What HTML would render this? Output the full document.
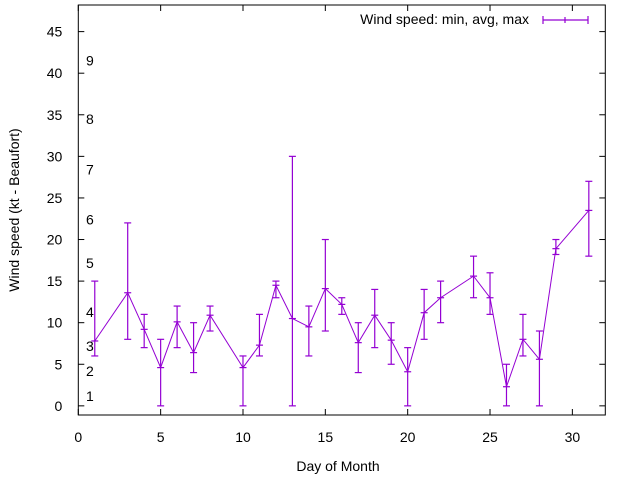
<!DOCTYPE html>
<html><head><meta charset="utf-8"><style>
body{margin:0;background:#fff}
svg{display:block;font-family:"Liberation Sans",sans-serif}
</style></head><body>
<svg width="640" height="480" id="c">
<rect x="0" y="0" width="640" height="480" fill="#fff"/>
<g id="grid"></g>
<text x="338" y="471" font-size="14" text-anchor="middle" fill="#000">Day of Month</text>
<text transform="translate(19,210) rotate(-90)" font-size="14" text-anchor="middle" fill="#000">Wind speed (kt - Beaufort)</text>
<text x="529" y="24" font-size="14" text-anchor="end" fill="#000">Wind speed: min, avg, max</text>
<g stroke="#9400d3" stroke-width="1.2">
<line x1="543" y1="20" x2="588" y2="20"/><line x1="543" y1="16" x2="543" y2="24"/><line x1="588" y1="16" x2="588" y2="24"/><line x1="565" y1="17" x2="565" y2="23"/>
</g>
</svg>
<script>
const days=[1,3,4,5,6,7,8,10,11,12,13,14,15,16,17,18,19,20,21,22,24,25,26,27,28,29,31];
const avgs=[7.8,13.6,9.2,4.6,10.1,6.4,10.9,4.6,7.3,14.5,10.5,9.5,14.1,12.2,7.6,10.9,7.9,4.1,11.2,13,15.6,13,2.3,8,5.6,18.9,23.5];
const mins=[6,8,7,0,7,4,9,0,6,13,0,6,9,11,4,7,5,0,8,10,13,11,0,6,0,18.2,18];
const maxs=[15,22,11,8,12,10,12,6,11,15,30,12,20,13,10,14,10,7,14,15,18,16,5,11,9,20,27];
const xTicks=[0,5,10,15,20,25,30];
const yTicks=[0,5,10,15,20,25,30,35,40,45];
const beaufortLabels=["1","2","3","4","5","6","7","8","9"];
const beaufortKt=[1.2,4.2,7.2,11.3,17.2,22.4,28.4,34.5,41.5];
const L=78.3,R=605.3,T=5,B=415,xMin=0,xMax=32,yMin=-1.1,yMax=48.2;
const X=v=>L+(v-xMin)/(xMax-xMin)*(R-L);
const Y=v=>B-(v-yMin)/(yMax-yMin)*(B-T);
const NS="http://www.w3.org/2000/svg";
const svg=document.getElementById('c');
function mk(t,a,p){const e=document.createElementNS(NS,t);for(const k in a)e.setAttribute(k,a[k]);(p||svg).appendChild(e);return e;}
const g=document.getElementById('grid');
const frame=mk('rect',{x:L,y:T,width:R-L,height:B-T,fill:'none',stroke:'#000','stroke-width':1},g);


xTicks.forEach(v=>{
  const x=X(v);
  mk('line',{x1:x,y1:B,x2:x,y2:B-6,stroke:'#000'},g);
  mk('line',{x1:x,y1:T,x2:x,y2:T+6,stroke:'#000'},g);
  const t=mk('text',{x:x,y:B+27,'font-size':14,'text-anchor':'middle',fill:'#000'});
  t.textContent=v;
  
  
});
yTicks.forEach(v=>{
  const y=Y(v);
  mk('line',{x1:L,y1:y,x2:L+6,y2:y,stroke:'#000'},g);
  mk('line',{x1:R,y1:y,x2:R-6,y2:y,stroke:'#000'},g);
  const t=mk('text',{x:L-16,y:y+5,'font-size':14,'text-anchor':'end',fill:'#000'});
  t.textContent=v;
  
  
});
beaufortLabels.forEach((s,i)=>{
  const t=mk('text',{x:86,y:Y(beaufortKt[i])+5,'font-size':14,fill:'#000'});
  t.textContent=s;
  
  
});
const line=mk('polyline',{points:days.map((d,i)=>X(d)+','+Y(avgs[i])).join(' '),fill:'none',stroke:'#9400d3','stroke-width':1});


days.forEach((d,i)=>{
  const x=X(d);
  const eg=mk('g',{stroke:'#9400d3','stroke-width':1.2});
  
  
  mk('line',{x1:x,y1:Y(mins[i]),x2:x,y2:Y(maxs[i])},eg);
  [mins[i],maxs[i],avgs[i]].forEach(v=>mk('line',{x1:x-3.5,y1:Y(v),x2:x+3.5,y2:Y(v)},eg));
});
</script>
</body></html>
